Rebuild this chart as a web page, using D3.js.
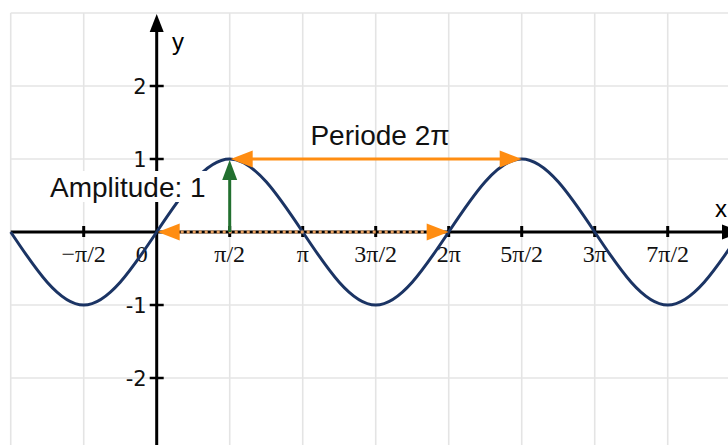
<!DOCTYPE html>
<html>
<head>
<meta charset="utf-8">
<script src="https://cdn.jsdelivr.net/npm/d3@7"></script>
<style>
  html, body { margin: 0; padding: 0; background: #fff; }
  svg { display: block; }
</style>
</head>
<body>
<svg id="chart" width="728" height="445"></svg>
<script>
// Sine curve y = sin(x): zeros and extrema at every multiple of pi/2
const curveX = [-2, -1, 0, 1, 2, 3, 4, 5, 6, 7, 8];       // in units of pi/2
const curveY = [0, -1, 0, 1, 0, -1, 0, 1, 0, -1, 0];

// Axis ticks
const xTickUnits  = [-1, 0, 1, 2, 3, 4, 5, 6, 7];          // in units of pi/2
const xTickLabels = ["\u2212\u03c0/2", "0", "\u03c0/2", "\u03c0", "3\u03c0/2", "2\u03c0", "5\u03c0/2", "3\u03c0", "7\u03c0/2"];
const yTicks      = [-2, -1, 1, 2];
const yTickLabels = ["-2", "-1", "1", "2"];

// Grid lines
const xGridUnits = [-2, -1, 1, 2, 3, 4, 5, 6, 7];
const yGrid      = [3, 2, 1, -1, -2];

// Annotations
const amplitude    = 1;
const periodStart  = 1;   // pi/2
const periodEnd    = 5;   // 5pi/2
const periodZeroA  = 0;
const periodZeroB  = 4;   // 2pi

const svg = d3.select("#chart");
const W = 728, H = 445;

const x = d3.scaleLinear().domain([-2, 8]).range([10.7, 740.7]);
const y = d3.scaleLinear().domain([-3, 3]).range([451, 13]);

const gridColor = "#e4e4e4";
const navy = "#1b3464";
const orange = "#ff8d12";
const green = "#22702f";

// grid
const grid = svg.append("g");
grid.selectAll("line.v").data(xGridUnits).join("line")
  .attr("x1", d => x(d)).attr("x2", d => x(d))
  .attr("y1", y(3)).attr("y2", H)
  .attr("stroke", gridColor).attr("stroke-width", 1.6);
grid.selectAll("line.h").data(yGrid).join("line")
  .attr("x1", x(-2)).attr("x2", W)
  .attr("y1", d => y(d)).attr("y2", d => y(d))
  .attr("stroke", gridColor).attr("stroke-width", 1.6);

// axes
const axes = svg.append("g");
axes.append("line")
  .attr("x1", x(-2)).attr("x2", 722).attr("y1", y(0)).attr("y2", y(0))
  .attr("stroke", "#000").attr("stroke-width", 3);
axes.append("path")
  .attr("d", `M722,${y(0) - 7.5} L742,${y(0)} L722,${y(0) + 7.5} Z`)
  .attr("fill", "#000");
axes.append("line")
  .attr("x1", x(0)).attr("x2", x(0)).attr("y1", H).attr("y2", 30)
  .attr("stroke", "#000").attr("stroke-width", 3);
axes.append("path")
  .attr("d", `M${x(0) - 7},32 L${x(0)},14 L${x(0) + 7},32 Z`)
  .attr("fill", "#000");

// x ticks
axes.selectAll("line.xt").data(xTickUnits.filter(d => d !== 0)).join("line")
  .attr("x1", d => x(d)).attr("x2", d => x(d))
  .attr("y1", y(0) - 6).attr("y2", y(0) + 5)
  .attr("stroke", "#000").attr("stroke-width", 3);
// y ticks
axes.selectAll("line.yt").data(yTicks).join("line")
  .attr("x1", x(0) - 7).attr("x2", x(0) + 7)
  .attr("y1", d => y(d)).attr("y2", d => y(d))
  .attr("stroke", "#000").attr("stroke-width", 2.5);

// x tick labels
axes.selectAll("text.xl").data(xTickUnits).join("text")
  .attr("x", (d, i) => d === 0 ? x(0) - 15 : x(d))
  .attr("y", 262)
  .attr("text-anchor", "middle")
  .attr("font-family", "'Liberation Serif', 'Times New Roman', serif")
  .attr("font-size", 24)
  .attr("fill", "#111")
  .text((d, i) => xTickLabels[i]);

// y tick labels
axes.selectAll("text.yl").data(yTicks).join("text")
  .attr("x", x(0) - 10)
  .attr("y", d => y(d) + 8)
  .attr("text-anchor", "end")
  .attr("font-family", "'DejaVu Sans', Verdana, sans-serif")
  .attr("font-size", 21)
  .attr("fill", "#111")
  .text((d, i) => yTickLabels[i]);

// axis names
axes.append("text").attr("x", 172).attr("y", 50)
  .attr("font-family", "'Liberation Sans', Arial, sans-serif").attr("font-size", 24)
  .attr("fill", "#000").text("y");
axes.append("text").attr("x", 715).attr("y", 217)
  .attr("font-family", "'Liberation Sans', Arial, sans-serif").attr("font-size", 24)
  .attr("fill", "#000").text("x");

// sine curve
const line = d3.line()
  .x((d, i) => x(curveX[i]))
  .y(d => y(d))
  .curve(d3.curveNatural);
svg.append("path")
  .attr("d", line(curveY))
  .attr("fill", "none")
  .attr("stroke", navy)
  .attr("stroke-width", 3);

// arrowhead helper
function head(g, tipX, tipY, dir, len, half, color) {
  // dir: unit vector from base toward tip
  const [dx, dy] = dir;
  const bx = tipX - dx * len, by = tipY - dy * len;
  const px = -dy * half, py = dx * half;
  g.append("path")
    .attr("d", `M${tipX},${tipY} L${bx + px},${by + py} L${bx - px},${by - py} Z`)
    .attr("fill", color);
}

const ann = svg.append("g");

// period along the zeros (0 to 2pi), dashed
ann.append("line")
  .attr("x1", x(periodZeroA) + 18).attr("x2", x(periodZeroB) - 18)
  .attr("y1", y(0)).attr("y2", y(0))
  .attr("stroke", "#e8a060").attr("stroke-width", 3)
  .attr("stroke-dasharray", "3,3");
head(ann, x(periodZeroA) + 1, y(0), [-1, 0], 22, 8.5, orange);
head(ann, x(periodZeroB), y(0), [1, 0], 22, 8.5, orange);

// period along the maxima (pi/2 to 5pi/2)
ann.append("line")
  .attr("x1", x(periodStart) + 15).attr("x2", x(periodEnd) - 15)
  .attr("y1", y(amplitude)).attr("y2", y(amplitude))
  .attr("stroke", orange).attr("stroke-width", 3.2);
head(ann, x(periodStart) + 1, y(amplitude), [-1, 0], 22, 8.5, orange);
head(ann, x(periodEnd), y(amplitude), [1, 0], 22, 8.5, orange);

// amplitude arrow
ann.append("line")
  .attr("x1", x(periodStart)).attr("x2", x(periodStart))
  .attr("y1", y(0)).attr("y2", y(amplitude) + 14)
  .attr("stroke", green).attr("stroke-width", 3);
head(ann, x(periodStart), y(amplitude) + 1, [0, -1], 20, 7.5, green);

// labels
ann.append("text")
  .attr("x", 380).attr("y", 145)
  .attr("text-anchor", "middle")
  .attr("font-family", "'Liberation Sans', Arial, sans-serif")
  .attr("font-size", 28)
  .attr("fill", "#111")
  .text("Periode 2\u03c0");

const amp = ann.append("g");
amp.append("rect")
  .attr("x", 47).attr("y", 171).attr("width", 163).attr("height", 31)
  .attr("fill", "#fff");
amp.append("text")
  .attr("x", 50).attr("y", 197)
  .attr("font-family", "'Liberation Sans', Arial, sans-serif")
  .attr("font-size", 28)
  .attr("fill", "#111")
  .text("Amplitude: " + amplitude);
</script>
</body>
</html>
